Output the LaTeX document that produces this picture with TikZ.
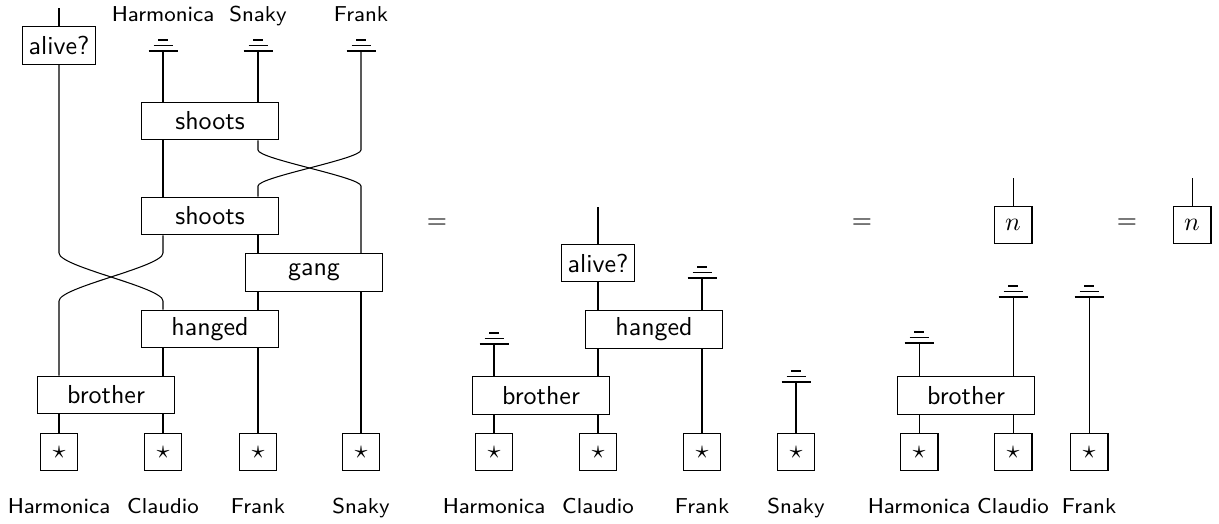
\documentclass[tikz,border=0pt]{standalone}
\usepackage{amssymb}
\usepackage{tikz}

\begin{document}
\begin{tikzpicture}[x=0.385pt, y=-0.385pt, font=\sffamily,
    box/.style={draw, inner sep=0pt, minimum width=52.4pt, minimum height=14.6pt},
    tbox/.style={draw, inner sep=0pt, minimum width=28.1pt, minimum height=14.6pt},
    sbox/.style={draw, inner sep=0pt, minimum size=14.6pt},
    lbl/.style={font=\sffamily\fontsize{8.3}{10}\selectfont, anchor=base},
    ground/.pic={\draw[line width=0.75pt] (-14.5,0) -- (14.5,0)
      (-9.5,-5.5) -- (9.5,-5.5) (-5,-11) -- (5,-11);}]
  \useasboundingbox (0,0) rectangle (1219,523);
  % stars and names
  \foreach \x/\name [count=\i] in {59/Harmonica, 163/Claudio, 258/Frank, 361/Snaky} {
    \node[sbox] (sA\i) at (\x,452) {$\star$};
    \node[lbl] (lA\i) at (\x,513) {\name};}
  \foreach \x/\name [count=\i] in {494/Harmonica, 598/Claudio, 702/Frank, 796/Snaky} {
    \node[sbox] (sB\i) at (\x,452) {$\star$};
    \node[lbl] (lB\i) at (\x,513) {\name};}
  \foreach \x/\name [count=\i] in {919/Harmonica, 1013/Claudio, 1089/Frank} {
    \node[sbox] (sC\i) at (\x,452) {$\star$};
    \node[lbl] (lC\i) at (\x,513) {\name};}
  \foreach \n/\x/\y in {A2/163/51, A3/258/51, A4/361/51, B1/494/344, B3/702/278,
      B4/796/382, C1/919/343, C2/1013/297, C3/1089/297}
    \path (\x,\y) coordinate (g\n) pic {ground};
  \node[lbl] (tA2) at (163,22) {Harmonica};
  \node[lbl] (tA3) at (258,22) {Snaky};
  \node[lbl] (tA4) at (361,22) {Frank};

  % left side
  \coordinate (aTop) at (59,8);
  \node[tbox] (alA) at (59,45.5) {alive?};
  \node[box] (shA) at (210,121) {shoots};
  \node[box] (shB) at (210,216) {shoots};
  \node[box] (gang) at (314,272.5) {gang};
  \node[box] (hgA) at (210,329) {hanged};
  \node[box] (brA) at (106,395) {brother};
  \coordinate (k1a) at (258,150); \coordinate (k1b) at (361,150);
  \coordinate (k1c) at (258,186); \coordinate (k1d) at (361,186);
  \coordinate (k2a) at (59,253); \coordinate (k2b) at (163,253);
  \coordinate (k2c) at (59,301); \coordinate (k2d) at (163,301);
  \draw (aTop) -- (alA);
  \draw (gA2) -- (shA.north -| gA2);
  \draw (gA3) -- (shA.north -| gA3);
  \draw (shA.south -| gA2) -- (shB.north -| gA2);
  \draw (shA.south -| gA3) -- (k1a) .. controls +(0,9) and +(0,-9) .. (k1d) -- (gang.north -| gA4);
  \draw (gA4) -- (k1b) .. controls +(0,9) and +(0,-9) .. (k1c) -- (shB.north -| gA3);
  \draw (shB.south -| gA3) -- (gang.north -| gA3);
  \draw (alA) -- (k2a) .. controls +(0,14) and +(0,-14) .. (k2d) -- (hgA.north -| gA2);
  \draw (shB.south -| gA2) -- (k2b) .. controls +(0,14) and +(0,-14) .. (k2c) -- (brA.north -| alA);
  \draw (gang.south -| gA3) -- (hgA.north -| gA3);
  \draw (gang.south -| gA4) -- (sA4);
  \draw (hgA.south -| gA2) -- (brA.north -| gA2);
  \draw (hgA.south -| gA3) -- (sA3);
  \draw (brA.south -| sA1) -- (sA1);
  \draw (brA.south -| sA2) -- (sA2);

  \node (eq1) at (437,224) {$=$};

  % middle
  \coordinate (bTop) at (598,207);
  \node[tbox] (alB) at (598,263) {alive?};
  \node[box] (hgB) at (654,329.5) {hanged};
  \node[box] (brB) at (541,395.5) {brother};
  \draw (bTop) -- (alB);
  \draw (alB) -- (hgB.north -| alB);
  \draw (gB3) -- (hgB.north -| gB3);
  \draw (hgB.south -| alB) -- (brB.north -| alB);
  \draw (hgB.south -| gB3) -- (sB3);
  \draw (gB1) -- (brB.north -| gB1);
  \draw (brB.south -| sB1) -- (sB1);
  \draw (brB.south -| sB2) -- (sB2);
  \draw (gB4) -- (sB4);

  \node (eq2) at (862,224) {$=$};

  % right
  \coordinate (cTop) at (1013,178);
  \node[sbox] (nC) at (1013,225) {$n$};
  \node[box] (brC) at (966,395.5) {brother};
  \draw (cTop) -- (nC);
  \draw (gC1) -- (brC.north -| gC1);
  \draw (gC2) -- (brC.north -| gC2);
  \draw (gC3) -- (sC3);
  \draw (brC.south -| sC1) -- (sC1);
  \draw (brC.south -| sC2) -- (sC2);

  \node (eq3) at (1127,224) {$=$};
  \coordinate (dTop) at (1192,178);
  \node[sbox] (nD) at (1192,225) {$n$};
  \draw (dTop) -- (nD);
\end{tikzpicture}
\end{document}
